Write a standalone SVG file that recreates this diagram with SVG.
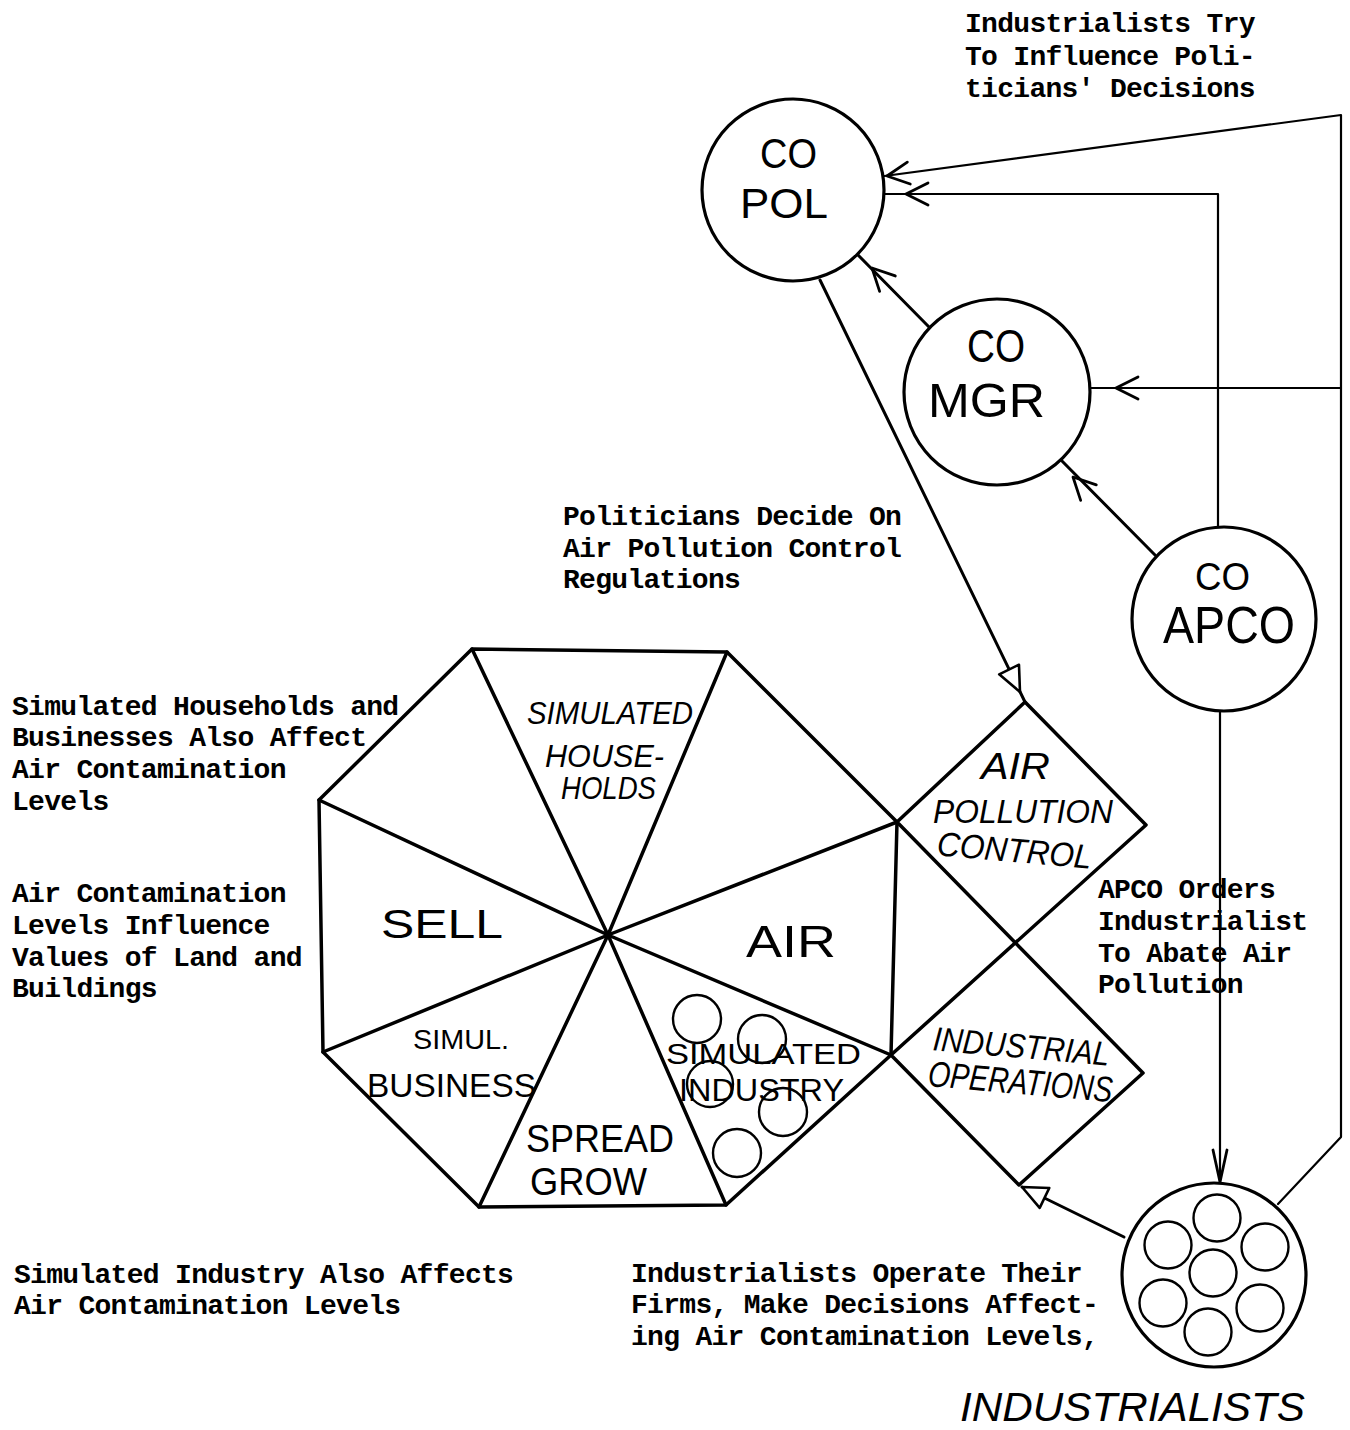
<svg xmlns="http://www.w3.org/2000/svg" xmlns:xlink="http://www.w3.org/1999/xlink" width="1350" height="1430" viewBox="0 0 1350 1430">
  <style>
    .ink { fill: none; stroke: #000; stroke-linecap: round; stroke-linejoin: round; }
    .heavy { stroke-width: 3.5; }
    .mid { stroke-width: 3; }
    .thin { stroke-width: 2.2; }
    .node { fill: #fff; stroke: #000; stroke-width: 3.2; }
    .cell { fill: none; stroke: #000; stroke-width: 2.4; }
    .type { font-family: "Liberation Mono", "Courier New", monospace; font-weight: bold; font-size: 28px; letter-spacing: -0.7px; fill: #000; }
    .hand { font-family: "Liberation Sans", Arial, sans-serif; fill: #000; }
    .slant { font-style: italic; }
    .head { fill: none; stroke: #000; stroke-width: 2.8; stroke-linecap: round; stroke-linejoin: round; }
    .tri { fill: #fff; stroke: #000; stroke-width: 2.6; stroke-linejoin: round; }
  </style>
  <defs>
    <!-- open chevron arrowhead, tip at origin, pointing along +x -->
    <path id="chev" d="M-22,-11 L0,0 L-22,11"/>
    <!-- hollow triangle arrowhead, tip at origin, pointing along +x -->
    <path id="tri" d="M0,0 L-25,-11 L-25,11 Z"/>
  </defs>

  <rect x="0" y="0" width="1350" height="1430" fill="#fff"/>

  <!-- connectors -->
  <g id="connectors">
    <!-- industrialists lobby the politicians (outer loop) -->
    <polyline class="ink thin" points="1278,1204 1341,1137 1341,115 877,177"/>
    <use href="#chev" class="head" transform="translate(887,176) rotate(172.3)"/>
    <!-- APCO reports to the politicians -->
    <polyline class="ink thin" points="1218,528 1218,194 885,194"/>
    <use href="#chev" class="head" transform="translate(906,194) rotate(180)"/>
    <!-- outer loop branch into the manager -->
    <line class="ink thin" x1="1341" y1="388" x2="1090" y2="388"/>
    <use href="#chev" class="head" transform="translate(1116,388) rotate(180)"/>
    <!-- manager to politicians -->
    <line class="ink mid" x1="930" y1="328" x2="858" y2="255"/>
    <use href="#chev" class="head" transform="translate(872,268) rotate(225.4)"/>
    <!-- APCO to manager -->
    <line class="ink mid" x1="1155" y1="555" x2="1061" y2="460"/>
    <use href="#chev" class="head" transform="translate(1073,477) rotate(225.3)"/>
    <!-- politicians decide on air pollution control -->
    <line class="ink mid" x1="820" y1="280" x2="1025" y2="702"/>
    <use href="#tri" class="tri" transform="translate(1020,692) rotate(64.1)"/>
    <!-- APCO orders industrialists -->
    <line class="ink thin" x1="1220" y1="711" x2="1220" y2="1183"/>
    <path class="head" d="M1213,1150 L1220,1182 L1227,1150"/>
    <!-- industrialists run industrial operations -->
    <line class="ink mid" x1="1124" y1="1237" x2="1022" y2="1187"/>
    <use href="#tri" class="tri" transform="translate(1022,1187) rotate(205.9)"/>
  </g>

  <!-- simulated city wheel -->
  <g id="octagon">
    <polygon class="ink heavy" points="472,649 727,652 897,822 891,1055 726,1205 479,1207 323,1052 319,800"/>
    <path class="ink heavy" d="M472,649 L608,935 L726,1205 M727,652 L608,935 L479,1207 M319,800 L608,935 L891,1055 M323,1052 L608,935 L897,822"/>
  </g>

  <g id="sector-households">
    <text class="hand slant" x="527" y="724" font-size="31" textLength="166" lengthAdjust="spacingAndGlyphs">SIMULATED</text>
    <text class="hand slant" x="545" y="767" font-size="31" textLength="119" lengthAdjust="spacingAndGlyphs">HOUSE-</text>
    <text class="hand slant" x="561" y="799" font-size="31" textLength="95" lengthAdjust="spacingAndGlyphs">HOLDS</text>
  </g>
  <g id="sector-sell">
    <text class="hand" x="381" y="938" font-size="40" textLength="122" lengthAdjust="spacingAndGlyphs">SELL</text>
  </g>
  <g id="sector-air">
    <text class="hand" x="746" y="957" font-size="44" textLength="90" lengthAdjust="spacingAndGlyphs">AIR</text>
  </g>
  <g id="sector-business">
    <text class="hand" x="413" y="1049" font-size="28" textLength="96" lengthAdjust="spacingAndGlyphs">SIMUL.</text>
    <text class="hand" x="367" y="1097" font-size="34" textLength="169" lengthAdjust="spacingAndGlyphs">BUSINESS</text>
  </g>
  <g id="sector-spread">
    <text class="hand" x="526" y="1152" font-size="38" textLength="148" lengthAdjust="spacingAndGlyphs">SPREAD</text>
    <text class="hand" x="530" y="1195" font-size="38" textLength="117" lengthAdjust="spacingAndGlyphs">GROW</text>
  </g>
  <g id="sector-industry">
    <circle class="cell" cx="697" cy="1019" r="24"/>
    <circle class="cell" cx="762" cy="1039" r="24"/>
    <circle class="cell" cx="710" cy="1084" r="23"/>
    <circle class="cell" cx="783" cy="1112" r="24"/>
    <circle class="cell" cx="737" cy="1153" r="24"/>
    <text class="hand" x="666" y="1064" font-size="30" textLength="195" lengthAdjust="spacingAndGlyphs">SIMULATED</text>
    <text class="hand" x="679" y="1101" font-size="32" textLength="165" lengthAdjust="spacingAndGlyphs">INDUSTRY</text>
  </g>

  <!-- air pollution control and industrial operations -->
  <g id="diamonds">
    <path class="ink heavy" d="M897,822 L1025,702 L1146,825 L891,1055 L1019,1185 L1143,1073 Z"/>
  </g>
  <g id="air-pollution-control">
    <text class="hand slant" x="981" y="779" font-size="36" textLength="69" lengthAdjust="spacingAndGlyphs">AIR</text>
    <text class="hand slant" x="933" y="823" font-size="34" textLength="180" lengthAdjust="spacingAndGlyphs">POLLUTION</text>
    <text class="hand slant" x="937" y="862" font-size="34" textLength="155" lengthAdjust="spacingAndGlyphs" transform="rotate(5 1014 850)">CONTROL</text>
  </g>
  <g id="industrial-operations">
    <text class="hand slant" x="933" y="1058" font-size="34" textLength="177" lengthAdjust="spacingAndGlyphs" transform="rotate(5 1021 1045)">INDUSTRIAL</text>
    <text class="hand slant" x="928" y="1094" font-size="36" textLength="185" lengthAdjust="spacingAndGlyphs" transform="rotate(5 1020 1080)">OPERATIONS</text>
  </g>

  <!-- county actors -->
  <g id="co-pol">
    <circle class="node" cx="793" cy="190" r="91"/>
    <text class="hand" x="760" y="168" font-size="42" textLength="57" lengthAdjust="spacingAndGlyphs">CO</text>
    <text class="hand" x="740" y="218" font-size="43" textLength="88" lengthAdjust="spacingAndGlyphs">POL</text>
  </g>
  <g id="co-mgr">
    <circle class="node" cx="997" cy="392" r="93"/>
    <text class="hand" x="967" y="362" font-size="46" textLength="58" lengthAdjust="spacingAndGlyphs">CO</text>
    <text class="hand" x="928" y="417" font-size="48" textLength="117" lengthAdjust="spacingAndGlyphs">MGR</text>
  </g>
  <g id="co-apco">
    <circle class="node" cx="1224" cy="619" r="92"/>
    <text class="hand" x="1195" y="590" font-size="38" textLength="55" lengthAdjust="spacingAndGlyphs">CO</text>
    <text class="hand" x="1163" y="643" font-size="52" textLength="132" lengthAdjust="spacingAndGlyphs">APCO</text>
  </g>
  <g id="industrialists">
    <circle class="node" cx="1214" cy="1275" r="92"/>
    <circle class="cell" cx="1217" cy="1218" r="23.5"/>
    <circle class="cell" cx="1168" cy="1245" r="23.5"/>
    <circle class="cell" cx="1265" cy="1247" r="23.5"/>
    <circle class="cell" cx="1213" cy="1273" r="23.5"/>
    <circle class="cell" cx="1163" cy="1303" r="23.5"/>
    <circle class="cell" cx="1260" cy="1308" r="23.5"/>
    <circle class="cell" cx="1208" cy="1332" r="23.5"/>
    <text class="hand slant" x="960" y="1421" font-size="40" textLength="345" lengthAdjust="spacingAndGlyphs">INDUSTRIALISTS</text>
  </g>

  <!-- typed annotations -->
  <g id="notes">
    <text class="type" x="965" y="32">Industrialists Try</text>
    <text class="type" x="965" y="65">To Influence Poli-</text>
    <text class="type" x="965" y="97">ticians' Decisions</text>

    <text class="type" x="563" y="525">Politicians Decide On</text>
    <text class="type" x="563" y="557">Air Pollution Control</text>
    <text class="type" x="563" y="588">Regulations</text>

    <text class="type" x="12" y="715">Simulated Households and</text>
    <text class="type" x="12" y="746">Businesses Also Affect</text>
    <text class="type" x="12" y="778">Air Contamination</text>
    <text class="type" x="12" y="810">Levels</text>

    <text class="type" x="12" y="902">Air Contamination</text>
    <text class="type" x="12" y="934">Levels Influence</text>
    <text class="type" x="12" y="966">Values of Land and</text>
    <text class="type" x="12" y="997">Buildings</text>

    <text class="type" x="1098" y="898">APCO Orders</text>
    <text class="type" x="1098" y="930">Industrialist</text>
    <text class="type" x="1098" y="962">To Abate Air</text>
    <text class="type" x="1098" y="993">Pollution</text>

    <text class="type" x="14" y="1283">Simulated Industry Also Affects</text>
    <text class="type" x="14" y="1314">Air Contamination Levels</text>

    <text class="type" x="631" y="1282">Industrialists Operate Their</text>
    <text class="type" x="631" y="1313">Firms, Make Decisions Affect-</text>
    <text class="type" x="631" y="1345">ing Air Contamination Levels,</text>
  </g>
</svg>
